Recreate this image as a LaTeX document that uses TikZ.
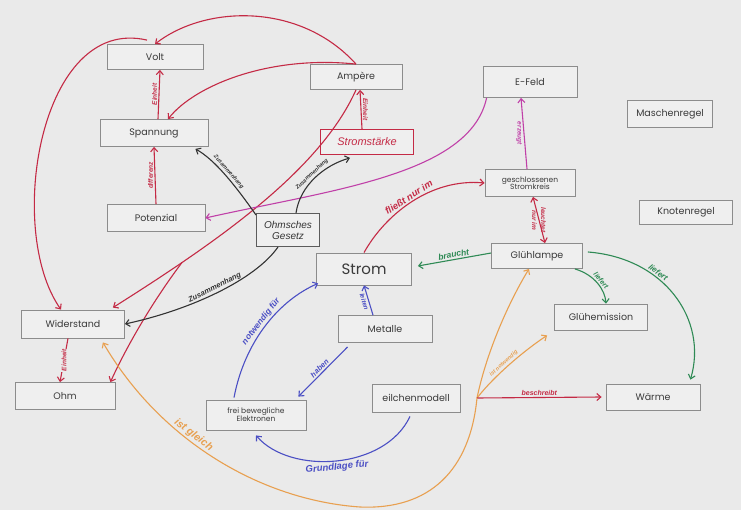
\documentclass[tikz,border=0pt]{standalone}
\usepackage{fontspec}
\usetikzlibrary{arrows.meta,calc}
\newfontfamily\boxfont{Poppins}
\newfontfamily\handfont{Liberation Sans}
\definecolor{paper}{HTML}{EAEAEA}
\definecolor{boxfill}{HTML}{EFEFEF}
\definecolor{boxline}{HTML}{8C8C8C}
\definecolor{txt}{HTML}{3A3A3A}
\definecolor{pred}{HTML}{C42A45}
\definecolor{pmag}{HTML}{C040A8}
\definecolor{pgreen}{HTML}{2F8A55}
\definecolor{pblue}{HTML}{4B4FC4}
\definecolor{porange}{HTML}{E8A050}
\definecolor{pblack}{HTML}{333333}
\tikzset{
  box/.style={draw=boxline, line width=0.8pt, fill=boxfill, text=txt,
    font=\boxfont\fontsize{9.5}{11}\selectfont, inner sep=0pt, align=center},
  smallbox/.style={box, font=\boxfont\fontsize{7.5}{9}\selectfont},
  handbox/.style={draw, line width=0.9pt, fill=boxfill, inner sep=0pt, align=center,
    font=\handfont\itshape\fontsize{11}{12}\selectfont},
  conn/.style={line width=1.1pt, -{Straight Barb[length=4pt,width=7pt]}},
  lab/.style={font=\handfont\itshape\bfseries\fontsize{6.5}{7}\selectfont, inner sep=1.5pt, sloped},
  biglab/.style={lab, font=\handfont\itshape\bfseries\fontsize{9.5}{10}\selectfont},
  uplabL/.style={lab, sloped=false, rotate=90, anchor=south},
  uplabR/.style={lab, sloped=false, rotate=90, anchor=north},
  dnlabL/.style={lab, sloped=false, rotate=-90, anchor=north},
  dnlabR/.style={lab, sloped=false, rotate=-90, anchor=south},
}
\begin{document}
\begin{tikzpicture}[x=1pt,y=-1pt]
\fill[paper] (0,0) rectangle (741,510);
\useasboundingbox (0,0) rectangle (741,510);

% boxes
\node[box, minimum width=96, minimum height=25] (volt) at (155,57) {Volt};
\node[box, minimum width=108, minimum height=27] (spannung) at (154,133) {Spannung};
\node[box, minimum width=98, minimum height=27] (potenzial) at (156,218) {Potenzial};
\node[box, minimum width=92, minimum height=25] (ampere) at (356,77) {Ampère};
\node[handbox, draw=pred, text=pred, minimum width=93, minimum height=25] (stromstaerke) at (367,142) {Stromstärke};
\node[box, minimum width=94, minimum height=31] (efeld) at (530,82) {E-Feld};
\node[box, minimum width=85, minimum height=27] (maschen) at (670,114) {Maschenregel};
\node[box, minimum width=93, minimum height=24] (knoten) at (686,212) {Knotenregel};
\node[smallbox, minimum width=90, minimum height=27] (kreis) at (530,183) {geschlossenen\\[-2pt]Stromkreis};
\node[handbox, draw=pblack!80, text=pblack, minimum width=63, minimum height=33,
  font=\handfont\itshape\fontsize{10}{11}\selectfont] (ohmg) at (288,230) {Ohmsches\\Gesetz};
\node[box, minimum width=95, minimum height=32, font=\boxfont\fontsize{15}{17}\selectfont] (strom) at (364,269) {Strom};
\node[box, minimum width=91, minimum height=25] (gluehlampe) at (537,256) {Glühlampe};
\node[box, minimum width=93, minimum height=26] (gluehem) at (601,317) {Glühemission};
\node[box, minimum width=103, minimum height=28] (widerstand) at (73,324) {Widerstand};
\node[box, minimum width=100, minimum height=27] (ohm) at (65,396) {Ohm};
\node[box, minimum width=94, minimum height=27] (metalle) at (385,329) {Metalle};
\node[box, minimum width=88, minimum height=28] (teilchen) at (416,398) {eilchenmodell};
\node[smallbox, minimum width=100, minimum height=30] (elektronen) at (256,415) {frei bewegliche\\[-1pt]Elektronen};
\node[box, minimum width=94, minimum height=26] (waerme) at (653,397) {Wärme};

% red connectors (top left)
\draw[conn,pred] (ampere.north) .. controls (300,2) and (205,5) .. (volt.north);
\draw[conn,pred] (ampere.north) .. controls (270,55) and (195,85) .. ($(spannung.north)+(14,0)$);
\draw[conn,pred] ($(volt.north)+(-8,-4)$) .. controls (40,15) and (5,230) .. ($(widerstand.north)+(-12,0)$);
\draw[conn,pred] (ampere.south) .. controls (320,170) and (220,240) .. ($(widerstand.north east)+(-12,-2)$)
  coordinate[pos=0.78] (br);
\draw[conn,pred] (br) .. controls (150,305) and (125,350) .. ($(ohm.north east)+(-5,0)$);
\draw[conn,pred] (potenzial.north) -- (spannung.south) node[uplabL,midway]{differenz};
\draw[conn,pred] ($(spannung.north)+(4,0)$) -- ($(volt.south)+(5,0)$) node[uplabL,midway]{Einheit};
\draw[conn,pred] ($(stromstaerke.north)+(-5,0)$) -- ($(ampere.south)+(4,0)$) node[dnlabR,midway]{Einheit};
\draw[conn,pred] ($(widerstand.south)+(-5,0)$) -- ($(ohm.north)+(-5,0)$)
  node[lab,midway,sloped=false,rotate=90,fill=paper,inner sep=0.5pt]{Einheit};

% magenta
\draw[conn,pmag] ($(efeld.south west)+(4,0)$) .. controls (470,175) and (330,190) .. (potenzial.east);
\draw[conn,pmag] ($(kreis.north)+(-3,0)$) -- ($(efeld.south)+(-9,0)$) node[dnlabL,midway]{erzeugt};

% red right
\draw[conn,pred] (strom.north) .. controls (385,215) and (430,178) .. (kreis.west)
  node[biglab,text=pred,midway,above]{fließt nur im};
\draw[pred, line width=1.1pt, {Straight Barb[length=4pt,width=7pt]}-{Straight Barb[length=4pt,width=7pt]}]
  ($(kreis.south)+(3,0)$) -- ($(gluehlampe.north)+(8,0)$)
  node[dnlabR,midway]{leuchtet} node[dnlabL,midway]{nur im};

% green
\draw[conn,pgreen] ($(gluehlampe.west)+(0,-3)$) -- ($(strom.east)+(6,-3)$) node[lab,midway,above,font=\handfont\itshape\bfseries\fontsize{8.5}{9}\selectfont]{braucht};
\draw[conn,pgreen] ($(gluehlampe.south east)+(-8,0)$) .. controls (595,275) and (605,290) .. ($(gluehem.north)+(5,0)$)
  node[lab,midway,above,font=\handfont\itshape\bfseries\fontsize{7}{8}\selectfont]{liefert};
\draw[conn,pgreen] ($(gluehlampe.east)+(5,-4)$) .. controls (665,258) and (708,320) .. ($(waerme.north east)+(-10,-4)$)
  node[lab,pos=.35,above,font=\handfont\itshape\bfseries\fontsize{8}{9}\selectfont]{liefert};

% orange / junction
\coordinate (j) at (477,398);
\draw[conn,porange] (j) .. controls (487,350) and (510,300) .. ($(gluehlampe.south)+(-8,0)$);
\draw[conn,porange] (j) .. controls (495,375) and (525,350) .. ($(gluehem.south west)+(-7,5)$)
  node[lab,pos=.45,above,font=\handfont\itshape\bfseries\fontsize{5.5}{6}\selectfont]{ist notwendig};
\draw[conn,pred] (j) -- ($(waerme.west)+(-4,0)$) node[lab,midway,above,font=\handfont\itshape\bfseries\fontsize{7}{8}\selectfont]{beschreibt};
\draw[conn,porange] (j) .. controls (470,470) and (430,510) .. (360,507)
  .. controls (260,500) and (160,440) .. ($(widerstand.south east)+(-22,4)$)
  node[lab,pos=0.6,above,font=\handfont\itshape\bfseries\fontsize{10.5}{11}\selectfont]{ist gleich};

% blue
\draw[conn,pblue] ($(metalle.north)+(-12,0)$) -- (strom.south) node[lab,midway,below]{leiten};
\draw[conn,pblue] ($(metalle.south west)+(10,4)$) -- ($(elektronen.north east)+(-8,-3)$)
  node[lab,midway,above,font=\handfont\itshape\bfseries\fontsize{7.5}{8}\selectfont]{haben};
\draw[conn,pblue] ($(elektronen.north)+(-22,-2)$) .. controls (245,340) and (280,300) .. ($(strom.south west)+(2,-2)$)
  node[lab,midway,above,font=\handfont\itshape\bfseries\fontsize{8.5}{9}\selectfont]{notwendig für};
\draw[conn,pblue] ($(teilchen.south)+(-6,4)$) .. controls (385,470) and (290,475) .. ($(elektronen.south)+(0,5)$)
  node[biglab,midway,below]{Grundlage für};

% black
\draw[conn,pblack] ($(ohmg.north west)+(0,2)$) .. controls (235,185) and (215,160) .. ($(spannung.south east)+(-13,2)$)
  node[lab,midway,above,font=\handfont\itshape\bfseries\fontsize{5.5}{6}\selectfont]{Zusammenhang};
\draw[conn,pblack] ($(ohmg.north)+(8,0)$) .. controls (300,185) and (325,165) .. ($(stromstaerke.south)+(-17,3)$)
  node[lab,midway,above,font=\handfont\itshape\bfseries\fontsize{5.5}{6}\selectfont]{Zusammenhang};
\draw[conn,pblack] ($(ohmg.south west)+(22,0)$) .. controls (255,280) and (190,310) .. (widerstand.east)
  node[lab,midway,above,font=\handfont\itshape\bfseries\fontsize{7.5}{8}\selectfont]{Zusammenhang};
\end{tikzpicture}
\end{document}
